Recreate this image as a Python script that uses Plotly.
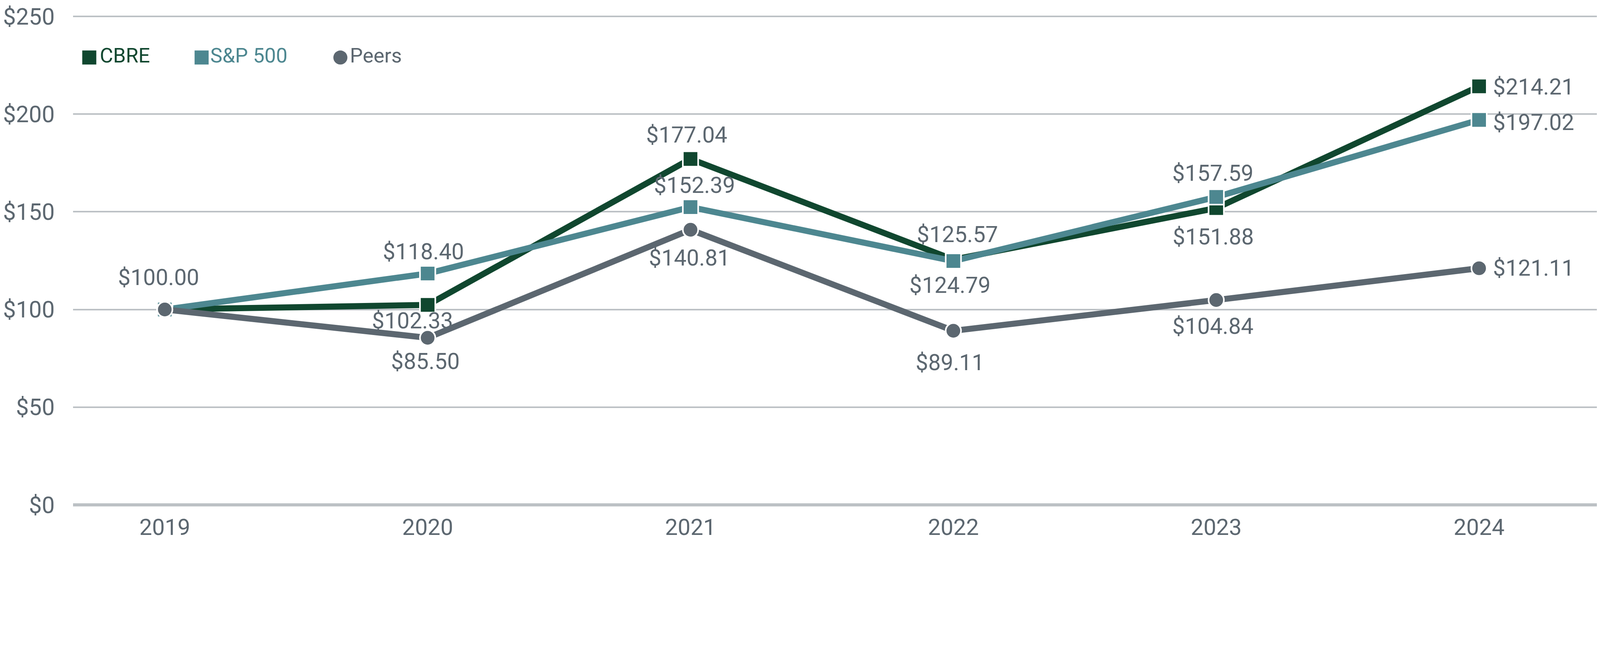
import plotly.graph_objects as go

years = ["2019", "2020", "2021", "2022", "2023", "2024"]
series_names = ["CBRE", "S&P 500", "Peers"]
cbre = [100.00, 102.33, 177.04, 125.57, 151.88, 214.21]
sp500 = [100.00, 118.40, 152.39, 124.79, 157.59, 197.02]
peers = [100.00, 85.50, 140.81, 89.11, 104.84, 121.11]

y_ticks = [0, 50, 100, 150, 200, 250]
y_tick_labels = ["$0", "$50", "$100", "$150", "$200", "$250"]

# label placement (style only): offsets in device pixels, None = no label
cbre_lbl = [None, (-48, 50), (-12, -75), (13, -78), (-9, 90), ("r", 2)]
sp_lbl = [(-20, -100), (-13, -68), (13, -69), (-11, 76), (-11, -74), ("r", 8)]
peers_lbl = [None, (-7, 74), (-3, 88), (-11, 100), (-11, 82), ("r", 0)]

colors = ["#10472F", "#4D8790", "#5C6770"]
symbols = ["square", "square", "circle"]
grid_color = "#BCC1C5"
text_color = "#5C6770"
FONT = "Roboto"

# the page is shown with a CSS viewport of 4096 px that is scaled to 5012 px
S = 4096 / 5012
BODY = 8


def px(v):
    return v * S


fig = go.Figure()
annotations = []

for name, vals, lbls, col, sym in zip(series_names, [cbre, sp500, peers],
                                      [cbre_lbl, sp_lbl, peers_lbl], colors, symbols):
    fig.add_trace(go.Scatter(
        x=years, y=vals, name=name, mode="lines+markers",
        line=dict(color=col, width=px(19)),
        marker=dict(symbol=sym, size=px(48), color=col, line=dict(color="white", width=px(5))),
        cliponaxis=False,
        showlegend=False,
    ))
    for i, (v, lb) in enumerate(zip(vals, lbls)):
        if lb is None:
            continue
        dx, dy = lb
        right = dx == "r"
        annotations.append(dict(
            xref="x", yref="y", x=i, y=v,
            text=f"${v:,.2f}", showarrow=False,
            xanchor="left" if right else "center", yanchor="middle",
            xshift=px(41) if right else px(dx), yshift=-px(dy),
            font=dict(family=FONT, size=px(70), color=text_color)))

# Custom legend drawn on an overlay axis measured in device pixels of the plot area
legend_marker_x = [51, 404, 840]
legend_text_x = [84, 431, 870]
legend_y = [1414, 1414, 1414]
fig.add_trace(go.Scatter(
    x=legend_marker_x, y=legend_y, xaxis="x2", yaxis="y2",
    mode="markers",
    marker=dict(symbol=symbols, size=px(44), color=colors, line=dict(width=0)),
    showlegend=False, cliponaxis=False, hoverinfo="skip",
))
fig.add_trace(go.Scatter(
    x=legend_text_x, y=legend_y, xaxis="x2", yaxis="y2",
    mode="text", marker=dict(size=1),
    text=series_names, textposition="middle right",
    textfont=dict(family=FONT, size=px(64), color=colors),
    showlegend=False, cliponaxis=False, hoverinfo="skip",
))

unit = 1544 / 250  # device px per dollar
pad = 1
fig_w = 4096 - BODY
fig_h = 1388 - BODY
plot_top = 38 - pad * unit
plot_bot = 1582 + pad * unit
fig.update_layout(
    width=fig_w, height=fig_h,
    margin=dict(l=px(214) - BODY, r=0, t=px(plot_top) - BODY, b=fig_h + BODY - px(plot_bot)),
    paper_bgcolor="white", plot_bgcolor="white",
    font=dict(family=FONT, color=text_color, size=px(70)),
    showlegend=False,
    annotations=annotations,
    xaxis=dict(
        type="category", range=[-0.349, 5.46],
        showgrid=False, zeroline=False, showline=False,
        tickfont=dict(family=FONT, size=px(71), color=text_color),
        ticks="", ticklabelstandoff=round(px(16)),
    ),
    yaxis=dict(
        range=[-pad, 250 + pad], tickvals=y_ticks, ticktext=y_tick_labels,
        showgrid=True, gridcolor=grid_color, gridwidth=px(5),
        zeroline=True, zerolinecolor=grid_color, zerolinewidth=px(10),
        showline=False, ticks="",
        tickfont=dict(family=FONT, size=px(72), color=text_color),
        ticklabelstandoff=round(px(56)),
        ticklabeloverflow="allow",
    ),
    xaxis2=dict(overlaying="x", range=[0, 4798], visible=False, fixedrange=True),
    yaxis2=dict(overlaying="y", range=[-pad * unit, 1544 + pad * unit], visible=False, fixedrange=True),
)

fig.write_html("out.html")
